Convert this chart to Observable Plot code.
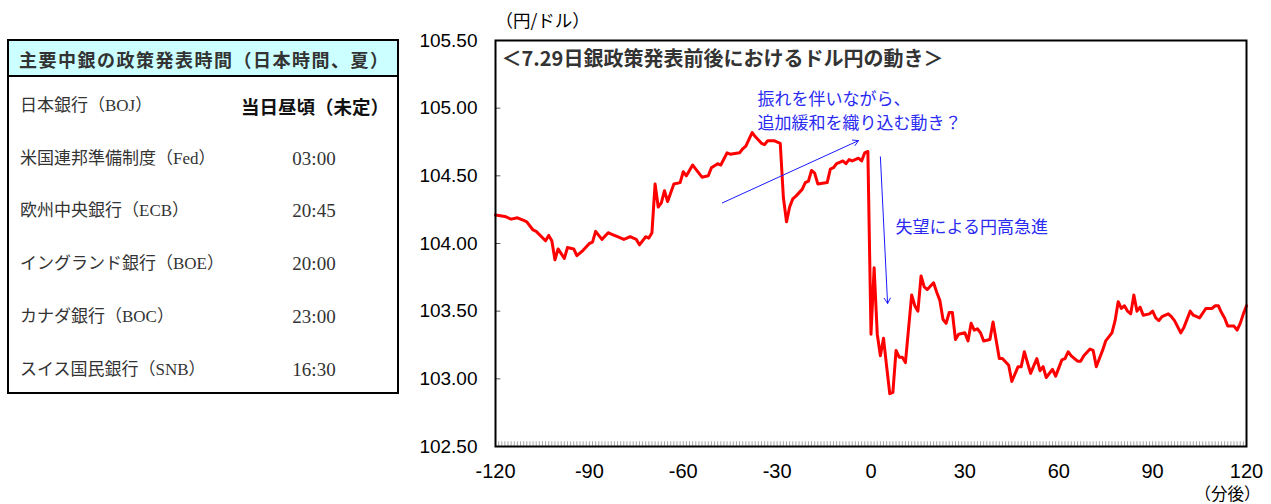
<!DOCTYPE html>
<html><head><meta charset="utf-8">
<script src="https://cdn.jsdelivr.net/npm/d3@7"></script>
<script src="https://cdn.jsdelivr.net/npm/@observablehq/plot@0.6"></script>
<style>
body{margin:0;background:#fff;}
#wrap{position:relative;width:1271px;height:504px;overflow:hidden;font-family:"Liberation Sans",Arial,sans-serif;}
#chart{position:absolute;left:0;top:0;}
#tbl{position:absolute;left:7px;top:39px;width:388px;height:351px;border:2px solid #000;background:#fff;}
#tbl .hd{position:absolute;left:0;top:0;width:388px;height:36px;background:#ccffff;border-bottom:2px solid #000;
  font-family:"Noto Sans CJK JP",sans-serif;font-weight:bold;font-size:18px;color:#333;line-height:36px;padding-left:10px;box-sizing:border-box;letter-spacing:1.5px;white-space:nowrap;}
#tbl .nm{position:absolute;left:11px;font-family:"Liberation Serif","Noto Sans CJK JP",serif;font-size:17px;color:#333;white-space:nowrap;line-height:20px;}
#tbl .tm{position:absolute;font-family:"Liberation Serif",serif;font-size:19px;color:#333;white-space:nowrap;line-height:20px;width:80px;text-align:center;left:265px;}
#tbl .tm.bold{font-family:"Noto Sans CJK JP",sans-serif;font-weight:bold;font-size:18.5px;color:#111;left:auto;right:8px;width:auto;text-align:right;}
</style>
</head><body>
<div id="wrap"><div id="chart"></div><div id="tbl"></div></div>
<script>
// ---- table data ----
const tableTitle = "主要中銀の政策発表時間（日本時間、夏）";
const bankNames = ["日本銀行（BOJ）","米国連邦準備制度（Fed）","欧州中央銀行（ECB）","イングランド銀行（BOE）","カナダ銀行（BOC）","スイス国民銀行（SNB）"];
const bankTimes = ["当日昼頃（未定）","03:00","20:45","20:00","23:00","16:30"];

// ---- chart data ----
const chartTitle = "＜7.29日銀政策発表前後におけるドル円の動き＞";
const minutes = [-120,-117,-115,-113,-111,-110,-108,-107,-104,-103,-102,-101,-100,-98,-97,-95,-94,-92,-90,-89,-88,-86,-84,-83,-81,-79,-78,-77,-75,-74,-72,-71,-70,-69,-68,-67,-66,-65,-63,-61,-60,-59,-57,-56,-54,-52,-51,-49,-48,-46,-45,-42,-41,-40,-38,-37,-35,-34,-33,-31,-29,-28,-27,-26,-25,-24,-22,-21,-20,-19,-18,-17,-14,-13,-12,-11,-10,-9,-8,-7,-6,-4,-3,-2,-1,0,1,2,3,4,5,6,7,8,9,10,11,13,14,15,16,17,18,20,21,22,23,24,25,26,27,28,30,31,32,33,34,35,36,38,39,41,42,44,45,47,48,49,51,53,54,55,56,58,59,61,62,63,64,66,67,68,70,71,72,73,74,75,77,78,79,80,81,82,83,84,85,86,87,89,90,91,92,93,95,96,97,99,100,102,103,105,107,109,110,111,112,113,114,116,117,118,119,120];
const rates = [104.21,104.20,104.18,104.19,104.17,104.16,104.10,104.09,104.02,104.06,104.02,103.88,103.96,103.89,103.97,103.96,103.91,103.95,104.00,104.01,104.09,104.03,104.08,104.07,104.05,104.03,104.04,104.05,104.03,103.99,104.05,104.04,104.08,104.44,104.27,104.30,104.39,104.31,104.44,104.45,104.53,104.50,104.58,104.55,104.49,104.50,104.56,104.59,104.58,104.67,104.66,104.67,104.70,104.72,104.82,104.79,104.74,104.73,104.76,104.76,104.74,104.34,104.16,104.27,104.33,104.35,104.40,104.45,104.46,104.54,104.52,104.44,104.45,104.55,104.56,104.59,104.60,104.61,104.59,104.62,104.61,104.63,104.61,104.67,104.68,103.33,103.82,103.33,103.17,103.30,103.09,102.89,102.90,103.21,103.16,103.16,103.12,103.62,103.54,103.50,103.76,103.68,103.66,103.71,103.64,103.58,103.44,103.41,103.49,103.49,103.29,103.33,103.34,103.28,103.41,103.36,103.37,103.34,103.28,103.29,103.42,103.15,103.15,103.10,102.98,103.09,103.09,103.20,103.04,103.15,103.06,103.09,103.01,103.07,103.02,103.14,103.15,103.20,103.17,103.13,103.13,103.17,103.22,103.21,103.09,103.15,103.21,103.28,103.34,103.43,103.57,103.52,103.54,103.50,103.48,103.62,103.50,103.53,103.47,103.48,103.50,103.45,103.43,103.46,103.48,103.46,103.43,103.34,103.38,103.50,103.47,103.45,103.52,103.52,103.54,103.54,103.49,103.45,103.39,103.39,103.36,103.41,103.48,103.54];
const xTicks = [-120,-90,-60,-30,0,30,60,90,120];
const yTicks = [102.5,103.0,103.5,104.0,104.5,105.0,105.5];
const yLabel = "（円/ドル）";
const xLabel = "（分後）";
const note1 = ["振れを伴いながら、","追加緩和を織り込む動き？"];
const note2 = "失望による円高急進";

// ---- table ----
const tbl = document.getElementById("tbl");
const hd = document.createElement("div"); hd.className = "hd"; hd.textContent = tableTitle; tbl.appendChild(hd);
bankNames.forEach((n, i) => {
  const cy = 65 + i * 52.7 - 10;
  const a = document.createElement("div"); a.className = "nm"; a.style.top = cy + "px"; a.textContent = n; tbl.appendChild(a);
  const b = document.createElement("div"); b.className = "tm" + (i === 0 ? " bold" : ""); b.style.top = cy + "px"; b.textContent = bankTimes[i]; tbl.appendChild(b);
});

// ---- chart ----
const data = minutes.map((m, i) => ({m, v: rates[i]}));
const minorTicks = d3.range(-119, 120);
const blue = "#2a2af0";
const chart = Plot.plot({
  width: 1271, height: 504,
  marginLeft: 495, marginRight: 25, marginTop: 40, marginBottom: 58,
  style: {fontFamily: "Liberation Sans, Arial, sans-serif", fontSize: "19px", color: "#000", background: "transparent"},
  x: {domain: [-120, 120]},
  y: {domain: [102.5, 105.5]},
  marks: [
    Plot.ruleX(minorTicks, {x: d => d, y1: 102.5, y2: 102.535, stroke: "#a8a8a8", strokeWidth: 1}),
    Plot.ruleY(yTicks.slice(1, -1), {y: d => d, x1: -120, x2: -118.3, stroke: "#555", strokeWidth: 1}),
    Plot.axisY({ticks: yTicks, tickSize: 0, tickPadding: 18, tickFormat: d3.format(".2f"), label: null, fontSize: 19}),
    Plot.axisX({ticks: xTicks, tickSize: 0, tickPadding: 17, tickFormat: d => String(d).replace("−","-"), label: null, fontSize: 20}),
    Plot.line(data, {x: "m", y: "v", stroke: "#ff0000", strokeWidth: 3, strokeLinejoin: "round"}),
    Plot.frame({stroke: "#000", strokeWidth: 2}),
    Plot.text([chartTitle], {frameAnchor: "top-left", dx: 6, dy: 19, textAnchor: "start", lineAnchor: "middle", fontSize: 20, fontWeight: "bold", fill: "#333", fontFamily: "Noto Sans CJK JP, sans-serif"}),
    Plot.text([yLabel], {frameAnchor: "top-left", dx: 0, dy: -19, textAnchor: "start", lineAnchor: "middle", fontSize: 17.5, fill: "#000", fontFamily: "Noto Sans CJK JP, sans-serif"}),
    Plot.text([xLabel], {frameAnchor: "bottom-right", dx: 14, dy: 48, textAnchor: "end", lineAnchor: "middle", fontSize: 16.5, fill: "#000", fontFamily: "Noto Sans CJK JP, sans-serif"}),
    Plot.text([note1[0]], {x: -36.3, y: 105.06, textAnchor: "start", lineAnchor: "middle", fontSize: 17, fill: blue, fontFamily: "Noto Sans CJK JP, sans-serif"}),
    Plot.text([note1[1]], {x: -36.3, y: 104.89, textAnchor: "start", lineAnchor: "middle", fontSize: 17, fill: blue, fontFamily: "Noto Sans CJK JP, sans-serif"}),
    Plot.text([note2], {x: 7.8, y: 104.12, textAnchor: "start", lineAnchor: "middle", fontSize: 17, fill: blue, fontFamily: "Noto Sans CJK JP, sans-serif"}),
    Plot.arrow([0], {x1: -47.5, y1: 104.30, x2: -4.0, y2: 104.76, stroke: "#1a1aff", strokeWidth: 1, headLength: 9, bend: 0}),
    Plot.arrow([0], {x1: 3.0, y1: 104.64, x2: 5.3, y2: 103.557, stroke: "#1a1aff", strokeWidth: 1, headLength: 9, bend: 0})
  ]
});
document.getElementById("chart").appendChild(chart);
</script>
</body></html>
